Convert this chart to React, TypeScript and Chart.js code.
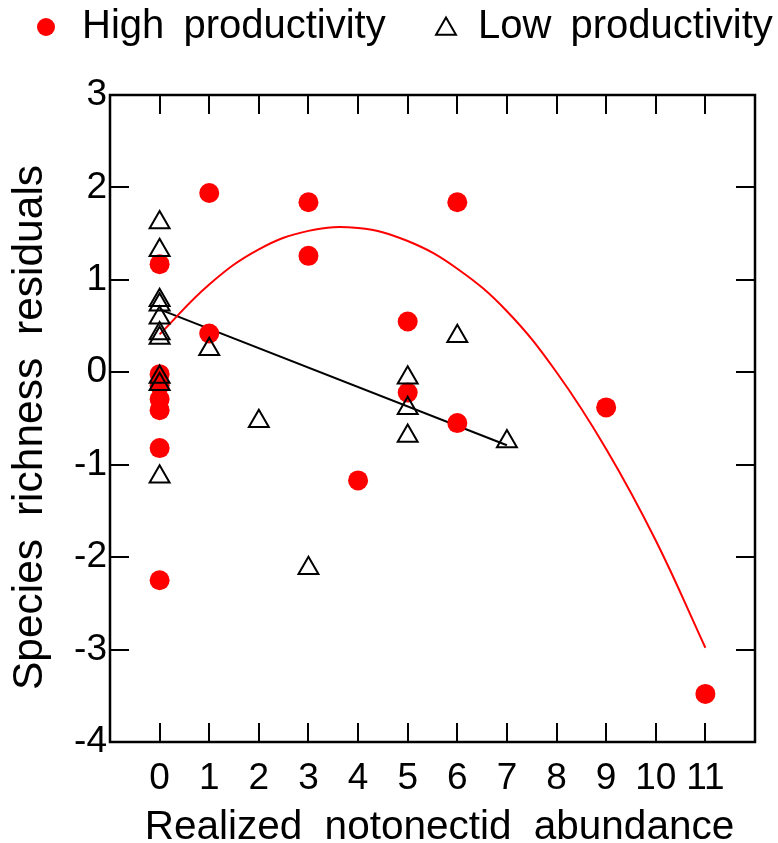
import React, { useEffect, useRef } from 'react';
import { Chart, registerables } from 'chart.js';

Chart.register(...registerables);

const FONT = '"Liberation Sans", Arial, Helvetica, sans-serif';

// High productivity (red filled circles)
const highX = [0, 0, 0, 0, 0, 0, 0, 1, 1, 3, 3, 4, 5, 5, 6, 6, 9, 11];
const highY = [1.17, -0.02, -0.14, -0.29, -0.41, -0.82, -2.25, 1.94, 0.42, 1.84, 1.26, -1.17, 0.55, -0.22, 1.84, -0.55, -0.38, -3.48];

// Low productivity (open triangles)
const lowX = [0, 0, 0, 0, 0, 0, 0, 0, 0, 0, 1, 2, 3, 5, 5, 5, 6, 7];
const lowY = [1.62, 1.32, 0.78, 0.73, 0.59, 0.42, 0.37, -0.05, -0.13, -1.13, 0.25, -0.53, -2.12, -0.06, -0.39, -0.69, 0.39, -0.75];

// Fitted curve (high productivity)
const highFitX = [0, 1, 2, 3, 4, 5, 6, 7, 8, 9, 10, 11];
const highFitY = [0.41, 0.95, 1.33, 1.53, 1.56, 1.42, 1.12, 0.66, 0.0, -0.83, -1.82, -2.98];

// Fitted line (low productivity)
const lowFitX = [0, 7];
const lowFitY = [0.68, -0.79];

const xTickValues = [0, 1, 2, 3, 4, 5, 6, 7, 8, 9, 10, 11];
const yTickValues = [-4, -3, -2, -1, 0, 1, 2, 3];

const seriesLabels = ['High productivity', 'Low productivity'];
const xTitle = 'Realized notonectid abundance';
const yTitle = 'Species richness residuals';

const toPoints = (xs: number[], ys: number[]) => xs.map((x, i) => ({ x, y: ys[i] }));

const setWordSpacing = (ctx: any, px: number) => {
  try {
    ctx.wordSpacing = `${px}px`;
  } catch (e) {
    /* ignore */
  }
};

const frameTicksPlugin = {
  id: 'frameTicks',
  afterDatasetsDraw(chart: any) {
    const { ctx, chartArea, scales } = chart;
    const { left, right, top, bottom } = chartArea;
    const x = scales.x;
    const y = scales.y;
    const len = 19;
    ctx.save();
    ctx.strokeStyle = '#000';
    ctx.lineWidth = 2;
    ctx.beginPath();
    for (const v of xTickValues) {
      const px = Math.round(x.getPixelForValue(v));
      ctx.moveTo(px, bottom);
      ctx.lineTo(px, bottom - len);
      ctx.moveTo(px, top);
      ctx.lineTo(px, top + len);
    }
    for (const v of yTickValues) {
      const py = Math.round(y.getPixelForValue(v));
      ctx.moveTo(left, py);
      ctx.lineTo(left + len, py);
      ctx.moveTo(right, py);
      ctx.lineTo(right - len, py);
    }
    ctx.stroke();
    ctx.lineWidth = 2.5;
    ctx.strokeRect(left, top, right - left, bottom - top);
    ctx.restore();
  },
};

const titlesPlugin = {
  id: 'axisTitles',
  afterDraw(chart: any) {
    const { ctx, chartArea } = chart;
    ctx.save();
    ctx.fillStyle = '#000';
    ctx.textAlign = 'center';
    ctx.textBaseline = 'alphabetic';
    // x title
    setWordSpacing(ctx, 11);
    ctx.font = `40.5px ${FONT}`;
    ctx.fillText(xTitle, (chartArea.left + chartArea.right) / 2 + 7, 839);
    // y title
    ctx.font = `42.5px ${FONT}`;
    ctx.translate(42, (chartArea.top + chartArea.bottom) / 2 + 9);
    ctx.rotate(-Math.PI / 2);
    ctx.fillText(yTitle, 0, 0);
    ctx.restore();
  },
};

const legendPlugin = {
  id: 'customLegend',
  afterDraw(chart: any) {
    const { ctx } = chart;
    const ds = chart.data.datasets;
    ctx.save();
    setWordSpacing(ctx, 8);
    ctx.font = `40px ${FONT}`;
    ctx.textBaseline = 'alphabetic';
    ctx.textAlign = 'left';
    // item 1: filled circle
    ctx.fillStyle = ds[0].backgroundColor;
    ctx.beginPath();
    ctx.arc(46, 27, 9, 0, Math.PI * 2);
    ctx.fill();
    ctx.fillStyle = '#000';
    ctx.fillText(ds[0].label, 82, 38);
    // item 2: open triangle
    const cx = 446;
    const cy = 29;
    const r = 11.5;
    ctx.strokeStyle = ds[1].borderColor;
    ctx.lineWidth = 2;
    ctx.beginPath();
    ctx.moveTo(cx, cy - r);
    ctx.lineTo(cx + r * Math.sin(Math.PI / 3), cy + r / 2);
    ctx.lineTo(cx - r * Math.sin(Math.PI / 3), cy + r / 2);
    ctx.closePath();
    ctx.stroke();
    ctx.fillStyle = '#000';
    ctx.fillText(ds[1].label, 478, 38);
    ctx.restore();
  },
};

export default function App() {
  const canvasRef = useRef<HTMLCanvasElement | null>(null);

  useEffect(() => {
    const canvas = canvasRef.current;
    if (!canvas) return;
    const chart = new Chart(canvas, {
      type: 'scatter',
      data: {
        datasets: [
          {
            label: seriesLabels[0],
            data: toPoints(highX, highY),
            backgroundColor: '#ff0000',
            borderColor: '#ff0000',
            borderWidth: 0,
            pointStyle: 'circle',
            pointRadius: 10,
            pointHoverRadius: 10,
            order: 2,
          },
          {
            label: seriesLabels[1],
            data: toPoints(lowX, lowY),
            backgroundColor: 'rgba(0,0,0,0)',
            borderColor: '#000000',
            borderWidth: 2,
            pointStyle: 'triangle',
            pointRadius: 11.5,
            pointHoverRadius: 11.5,
            order: 1,
          },
          {
            label: 'High fit',
            data: toPoints(highFitX, highFitY),
            showLine: true,
            borderColor: '#ff0000',
            backgroundColor: '#ff0000',
            borderWidth: 2,
            pointRadius: 0,
            tension: 0.4,
            fill: false,
            order: 3,
          },
          {
            label: 'Low fit',
            data: toPoints(lowFitX, lowFitY),
            showLine: true,
            borderColor: '#000000',
            backgroundColor: '#000000',
            borderWidth: 2,
            pointRadius: 0,
            fill: false,
            order: 4,
          },
        ],
      },
      options: {
        responsive: false,
        animation: false,
        events: [],
        layout: { padding: { top: 95, right: 23, left: 0, bottom: 0 } },
        plugins: {
          legend: { display: false },
          tooltip: { enabled: false },
        },
        scales: {
          x: {
            type: 'linear',
            min: -1,
            max: 12,
            grid: { display: false, drawTicks: false },
            border: { display: false },
            afterFit: (scale: any) => {
              scale.height = 101;
            },
            ticks: {
              stepSize: 1,
              autoSkip: false,
              maxRotation: 0,
              padding: 15,
              color: '#000',
              font: { family: FONT, size: 37 },
              callback: (v: any) => (xTickValues.includes(Number(v)) ? String(v) : ''),
            },
            title: { display: false, text: xTitle },
          },
          y: {
            type: 'linear',
            min: -4,
            max: 3,
            grid: { display: false, drawTicks: false },
            border: { display: false },
            afterFit: (scale: any) => {
              scale.width = 110;
            },
            ticks: {
              stepSize: 1,
              padding: 3,
              color: '#000',
              font: { family: FONT, size: 37 },
            },
            title: { display: false, text: yTitle },
          },
        },
      },
      plugins: [frameTicksPlugin, titlesPlugin, legendPlugin],
    });
    return () => chart.destroy();
  }, []);

  return (
    <div style={{ position: 'absolute', left: 0, top: 0, width: 778, height: 843, background: '#fff' }}>
      <canvas ref={canvasRef} width={778} height={843} style={{ display: 'block' }} />
    </div>
  );
}
